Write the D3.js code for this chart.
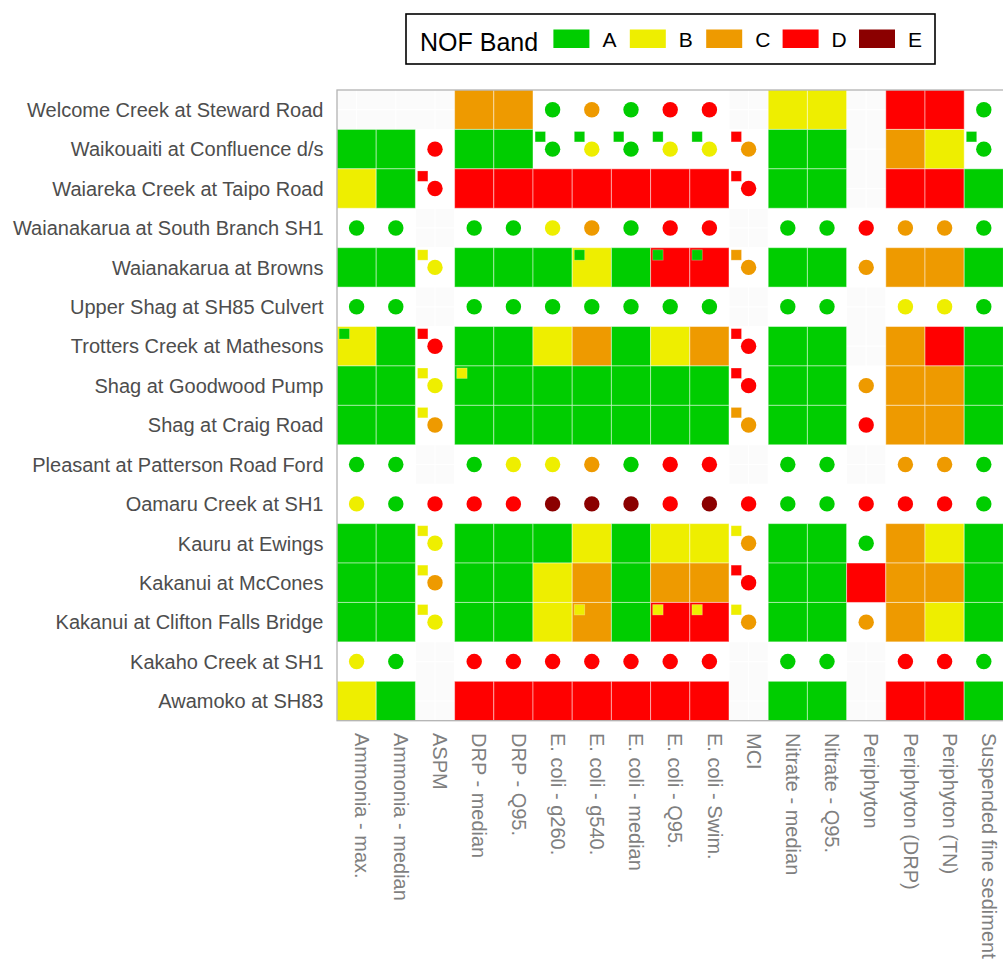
<!DOCTYPE html>
<html>
<head>
<meta charset="utf-8">
<script src="https://cdn.jsdelivr.net/npm/d3@7"></script>
<style>
  body { margin: 0; background: #ffffff; }
  svg { display: block; font-family: "Liberation Sans", Arial, sans-serif; }
</style>
</head>
<body>
<svg id="chart" width="1003" height="961"></svg>
<script>
// sites, top to bottom
var sites = [
  "Welcome Creek at Steward Road",
  "Waikouaiti at Confluence d/s",
  "Waiareka Creek at Taipo Road",
  "Waianakarua at South Branch SH1",
  "Waianakarua at Browns",
  "Upper Shag at SH85 Culvert",
  "Trotters Creek at Mathesons",
  "Shag at Goodwood Pump",
  "Shag at Craig Road",
  "Pleasant at Patterson Road Ford",
  "Oamaru Creek at SH1",
  "Kauru at Ewings",
  "Kakanui at McCones",
  "Kakanui at Clifton Falls Bridge",
  "Kakaho Creek at SH1",
  "Awamoko at SH83"
];

var attributes = [
  "Ammonia - max.", "Ammonia - median", "ASPM", "DRP - median", "DRP - Q95.",
  "E. coli - g260.", "E. coli - g540.", "E. coli - median", "E. coli - Q95.",
  "E. coli - Swim.", "MCI", "Nitrate - median", "Nitrate - Q95.", "Periphyton",
  "Periphyton (DRP)", "Periphyton (TN)", "Suspended fine sediment"
];

var bands = ["A", "B", "C", "D", "E"];
var band_colors = ["#00CD00", "#EEEE00", "#EE9A00", "#FF0000", "#8B0000"];

// one letter per attribute, "." = nothing for that layer
var tile_bands = [
  "...CC......BB.DD.",
  "AA.AA......AA.CB.",
  "BA.DDDDDDD.AA.DDA",
  ".................",
  "AA.AAABADD.AA.CCA",
  ".................",
  "BA.AABCABC.AA.CDA",
  "AA.AAAAAAA.AA.CCA",
  "AA.AAAAAAA.AA.CCA",
  ".................",
  ".................",
  "AA.AAABABB.AA.CBA",
  "AA.AABCACC.AADCCA",
  "AA.AABCADD.AA.CBA",
  ".................",
  "BA.DDDDDDD.AA.DDA"
];

var dot_bands = [
  ".....ACADD......A",
  "..D..ABABBC.....A",
  "..D.......D......",
  "AA.AABCADD.AADCCA",
  "..B.......C..C...",
  "AA.AAAAAAA.AA.BBA",
  "..D.......D......",
  "..B.......D..C...",
  "..C.......C..D...",
  "AA.ABBCADD.AA.CCA",
  "BADDDEEEDEDAADDDA",
  "..B.......C..A...",
  "..C.......D......",
  "..B.......C..C...",
  "BA.DDDDDDD.AA.DDA",
  "................."
];

var mark_bands = [
  ".................",
  ".....AAAAAD.....A",
  "..D.......D......",
  ".................",
  "..B...A.AAC......",
  ".................",
  "A.D.......D......",
  "..BB......D......",
  "..B.......C......",
  ".................",
  ".................",
  "..B.......B......",
  "..B.......D......",
  "..B...B.BBB......",
  ".................",
  "................."
];

function to_cells(rows){
    var cells = [];
    rows.forEach(function(row, i){
        row.split("").forEach(function(b, j){
            if (b != ".") cells.push({site: sites[i], attr: attributes[j], band: b});
        });
    });
    return cells;
}

var tiles = to_cells(tile_bands);
var dots = to_cells(dot_bands);
var marks = to_cells(mark_bands);

var svg = d3.select("#chart");
var panel = {left: 337, top: 90, right: 1003.4, bottom: 720.7};

var x = d3.scaleBand().domain(attributes).range([panel.left, panel.right]);
var y = d3.scaleBand().domain(sites).range([panel.top, panel.bottom]);
var color = d3.scaleOrdinal().domain(bands).range(band_colors);

// panel background + grid
svg.append("rect")
    .attr("x", panel.left).attr("y", panel.top)
    .attr("width", panel.right - panel.left).attr("height", panel.bottom - panel.top)
    .attr("fill", "#FBFBFB");

svg.append("g").selectAll("line")
    .data(attributes)
    .enter()
    .append("line")
    .attr("x1", d => x(d) + x.bandwidth() / 2).attr("x2", d => x(d) + x.bandwidth() / 2)
    .attr("y1", panel.top).attr("y2", panel.bottom)
    .attr("stroke", "#ffffff").attr("stroke-width", 1.2);
svg.append("g").selectAll("line")
    .data(sites)
    .enter()
    .append("line")
    .attr("y1", d => y(d) + y.bandwidth() / 2).attr("y2", d => y(d) + y.bandwidth() / 2)
    .attr("x1", panel.left).attr("x2", panel.right)
    .attr("stroke", "#ffffff").attr("stroke-width", 1.2);

// white cells behind dots
svg.append("g").selectAll("rect")
    .data(dots)
    .enter()
    .append("rect")
    .attr("x", d => x(d.attr)).attr("y", d => y(d.site))
    .attr("width", x.bandwidth()).attr("height", y.bandwidth())
    .attr("fill", "#ffffff").attr("stroke", "#ffffff").attr("stroke-width", 1);

// tiles
svg.append("g").selectAll("rect")
    .data(tiles)
    .enter()
    .append("rect")
    .attr("class", "tile")
    .attr("x", d => x(d.attr)).attr("y", d => y(d.site))
    .attr("width", x.bandwidth()).attr("height", y.bandwidth())
    .attr("fill", d => color(d.band))
    .attr("stroke", "#ffffff").attr("stroke-opacity", 0.45).attr("stroke-width", 1);

// dots
svg.append("g").selectAll("circle")
    .data(dots)
    .enter()
    .append("circle")
    .attr("cx", d => x(d.attr) + x.bandwidth() / 2)
    .attr("cy", d => y(d.site) + y.bandwidth() / 2)
    .attr("r", 7.7)
    .attr("fill", d => color(d.band));

// small squares, top left of the cell
var sq = 10.4;
svg.append("g").selectAll("rect")
    .data(marks)
    .enter()
    .append("rect")
    .attr("x", d => x(d.attr) + 7.3 - sq / 2)
    .attr("y", d => y(d.site) + 7.3 - sq / 2)
    .attr("width", sq).attr("height", sq)
    .attr("fill", d => color(d.band))
    .attr("stroke", "#ffffff").attr("stroke-opacity", 0.3).attr("stroke-width", 0.8);

// panel border
svg.append("rect")
    .attr("x", panel.left).attr("y", panel.top)
    .attr("width", panel.right - panel.left + 2).attr("height", panel.bottom - panel.top)
    .attr("fill", "none").attr("stroke", "#B3B3B3").attr("stroke-width", 1.3);

// y axis labels
svg.append("g").selectAll("text")
    .data(sites)
    .enter()
    .append("text")
    .attr("x", 323.5)
    .attr("y", d => y(d) + y.bandwidth() / 2)
    .attr("dy", "0.36em")
    .attr("text-anchor", "end")
    .attr("font-size", 20)
    .attr("fill", "#4D4D4D")
    .text(d => d);

// x axis labels, reading downwards
svg.append("g").selectAll("text")
    .data(attributes)
    .enter()
    .append("text")
    .attr("transform", d => "translate(" + (x(d) + x.bandwidth() / 2 - 1.8) + ",733) rotate(90)")
    .attr("text-anchor", "start")
    .attr("font-size", 20)
    .attr("fill", "#7F7F7F")
    .text(d => d);

// legend
var legend = svg.append("g");
legend.append("rect")
    .attr("x", 406).attr("y", 14)
    .attr("width", 529).attr("height", 50)
    .attr("fill", "#ffffff").attr("stroke", "#000000").attr("stroke-width", 1.6);
legend.append("text")
    .attr("x", 420).attr("y", 50.5)
    .attr("font-size", 25)
    .attr("fill", "#000000")
    .text("NOF Band");

var keys = legend.selectAll("g.key")
    .data(bands)
    .enter()
    .append("g")
    .attr("class", "key")
    .attr("transform", (d, i) => "translate(" + (553.4 + i * 76.4) + ",0)");
keys.append("rect")
    .attr("x", 0).attr("y", 29.5)
    .attr("width", 36).attr("height", 18.5)
    .attr("fill", d => color(d));
keys.append("text")
    .attr("x", 49).attr("y", 47.3)
    .attr("font-size", 21)
    .attr("fill", "#000000")
    .text(d => d);
</script>
</body>
</html>
